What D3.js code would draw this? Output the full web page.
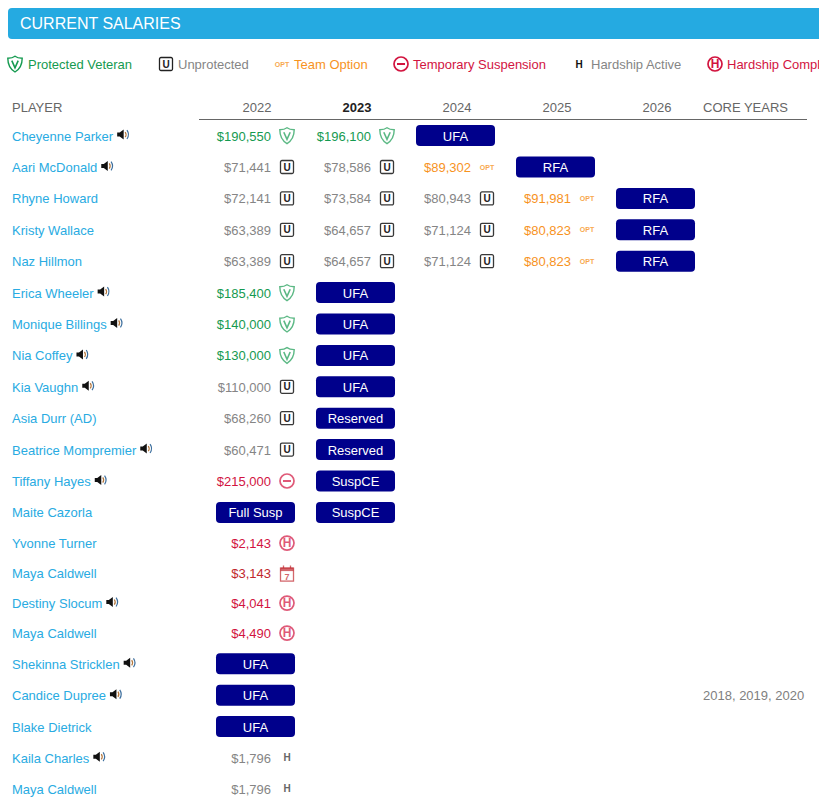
<!DOCTYPE html>
<html>
<head>
<meta charset="utf-8">
<script src="https://cdn.jsdelivr.net/npm/d3@7"></script>
<style>
html, body { margin: 0; padding: 0; background: #fff; overflow: hidden; }
svg { display: block; font-family: "Liberation Sans", Arial, sans-serif; font-size: 13px; }
</style>
</head>
<body>
<div id="chart"></div>
<script>
const title = "CURRENT SALARIES";

const legendKinds = ["V", "U", "OPT", "S", "H", "HC"];
const legendLabels = ["Protected Veteran", "Unprotected", "Team Option", "Temporary Suspension", "Hardship Active", "Hardship Complete"];

const years = ["2022", "2023", "2024", "2025", "2026"];

const players = ["Cheyenne Parker", "Aari McDonald", "Rhyne Howard", "Kristy Wallace", "Naz Hillmon", "Erica Wheeler", "Monique Billings", "Nia Coffey", "Kia Vaughn", "Asia Durr (AD)", "Beatrice Mompremier", "Tiffany Hayes", "Maite Cazorla", "Yvonne Turner", "Maya Caldwell", "Destiny Slocum", "Maya Caldwell", "Shekinna Stricklen", "Candice Dupree", "Blake Dietrick", "Kaila Charles", "Maya Caldwell"];
const hasAudio = [1, 1, 0, 0, 0, 1, 1, 1, 1, 0, 1, 1, 0, 0, 0, 1, 0, 1, 1, 0, 1, 0];

// a number is a salary, a string is a pill
const values2022 = [190550, 71441, 72141, 63389, 63389, 185400, 140000, 130000, 110000, 68260, 60471, 215000, "Full Susp", 2143, 3143, 4041, 4490, "UFA", "UFA", "UFA", 1796, 1796];
const status2022 = ["V", "U", "U", "U", "U", "V", "V", "V", "U", "U", "U", "S", "", "HC", "CAL", "HC", "HC", "", "", "", "H", "H"];
const values2023 = [196100, 78586, 73584, 64657, 64657, "UFA", "UFA", "UFA", "UFA", "Reserved", "Reserved", "SuspCE", "SuspCE"];
const status2023 = ["V", "U", "U", "U", "U"];
const values2024 = ["UFA", 89302, 80943, 71124, 71124];
const status2024 = ["", "OPT", "U", "U", "U"];
const values2025 = [null, "RFA", 91981, 80823, 80823];
const status2025 = ["", "", "OPT", "OPT", "OPT"];
const values2026 = [null, null, "RFA", "RFA", "RFA"];
const status2026 = [];
const coreYears = { 18: "2018, 2019, 2020" };

const columns = [
    [values2022, status2022],
    [values2023, status2023],
    [values2024, status2024],
    [values2025, status2025],
    [values2026, status2026]
];

const width = 819;
const height = 807;

const navy = "#00008b";
const blue = "#29abe2";
const kindColor = d3.scaleOrdinal()
    .domain(["V", "U", "OPT", "S", "H", "HC", "CAL"])
    .range(["#159a50", "#858585", "#f7931e", "#d2143f", "#858585", "#d2143f", "#c1272d"]);

const svg = d3.select("#chart").append("svg")
    .attr("width", width)
    .attr("height", height)
    .attr("viewBox", [0, 0, width, height]);

// banner, square end runs off the page
svg.append("rect")
    .attr("x", 8).attr("y", 8)
    .attr("width", width).attr("height", 31)
    .attr("rx", 4)
    .attr("fill", "#25aae1");
svg.append("text")
    .attr("x", 20).attr("y", 29)
    .attr("fill", "#fff")
    .style("font-size", "16px")
    .text(title);

const legendX = d3.scaleOrdinal().domain(legendKinds).range([15, 166, 282, 401, 579, 715]);
const legendTextX = d3.scaleOrdinal().domain(legendKinds).range([28, 178, 294, 413, 591, 727]);

const legend = svg.append("g").selectAll("g")
    .data(legendKinds)
    .join("g");
legend.each(function(k) {
    drawIcon(d3.select(this).append("g").attr("transform", `translate(${legendX(k)},64)`), k, true);
});
legend.append("text")
    .attr("x", k => legendTextX(k))
    .attr("y", 69)
    .attr("fill", k => kindColor(k))
    .text((k, i) => legendLabels[i]);

// columns are 100px apart, 2022 centred at 257
const x = d3.scaleBand().domain(years).range([207, 707]);
const rowHeight = i => {
    const k = status2022[i];
    if (k === "HC" || k === "CAL") return 30;
    if (k === "H") return 31;
    return 31.4;
};
const centers = [135.6];
for (let i = 1; i < players.length; i++) {
    centers.push(centers[i - 1] + (rowHeight(i - 1) + rowHeight(i)) / 2);
}
const y = d3.scaleOrdinal().domain(d3.range(players.length)).range(centers);

// header
svg.append("text").attr("x", 12).attr("y", 112).attr("fill", "#666").text("PLAYER");
svg.append("g").selectAll("text")
    .data(years)
    .join("text")
    .attr("x", d => x(d) + x.bandwidth() / 2)
    .attr("y", 112)
    .attr("text-anchor", "middle")
    .attr("fill", d => d === "2023" ? "#222" : "#666")
    .attr("font-weight", d => d === "2023" ? "bold" : null)
    .text(d => d);
svg.append("text").attr("x", 703).attr("y", 112).attr("fill", "#666").text("CORE YEARS");
svg.append("line")
    .attr("x1", 199).attr("x2", 807)
    .attr("y1", 119.5).attr("y2", 119.5)
    .attr("stroke", "#666");

// player names + audio icon
const names = svg.append("g").selectAll("g")
    .data(players)
    .join("g")
    .attr("transform", (d, i) => `translate(12,${y(i)})`);
names.append("text")
    .attr("y", 5)
    .attr("fill", blue)
    .text(d => d);
names.filter((d, i) => hasAudio[i]).each(function() {
    const g = d3.select(this);
    const w = g.select("text").node().getComputedTextLength();
    drawSpeaker(g.append("g").attr("transform", `translate(${w + 9},-1)`));
});

// salary cells and pills
columns.forEach(([values, status], c) => {
    const cx = x(years[c]) + x.bandwidth() / 2;
    values.forEach((v, i) => {
        if (v === null) return;
        if (typeof v === "string") {
            svg.append("rect")
                .attr("x", cx - 41).attr("y", y(i) - 10.5)
                .attr("width", 79).attr("height", 21)
                .attr("rx", 4)
                .attr("fill", navy);
            svg.append("text")
                .attr("x", cx - 1.5).attr("y", y(i) + 5)
                .attr("text-anchor", "middle")
                .attr("fill", "#fff")
                .text(v);
        } else {
            const k = status[i];
            svg.append("text")
                .attr("x", cx + 14).attr("y", y(i) + 5)
                .attr("text-anchor", "end")
                .attr("textLength", null)
                .attr("fill", kindColor(k))
                .text("$" + d3.format(",")(v));
            drawIcon(svg.append("g").attr("transform", `translate(${cx + 30},${y(i)})`), k, false);
        }
    });
});

Object.entries(coreYears).forEach(([i, t]) => {
    svg.append("text")
        .attr("x", 703).attr("y", y(+i) + 5)
        .attr("fill", "#808080")
        .text(t);
});

function drawIcon(g, k, inLegend) {
    const o = inLegend ? 1 : 0.7;
    const c = kindColor(k);
    if (k === "V") {
        g.append("path")
            .attr("d", "M0,-7.8 C2,-6.2 5,-5.8 7.2,-5.8 C7.2,0 5,5 0,8 C-5,5 -7.2,0 -7.2,-5.8 C-5,-5.8 -2,-6.2 0,-7.8 Z")
            .attr("fill", "none").attr("stroke", c).attr("stroke-width", 1.4).attr("opacity", o);
        g.append("path")
            .attr("d", "M-3.2,-3.4 L0,3.8 L3.2,-3.4")
            .attr("fill", "none").attr("stroke", c).attr("stroke-width", 1.6).attr("opacity", o);
    } else if (k === "U") {
        g.append("rect")
            .attr("x", -6.5).attr("y", -6.5).attr("width", 13).attr("height", 13).attr("rx", 1.5)
            .attr("fill", "none").attr("stroke", "#222").attr("stroke-width", 1.3).attr("opacity", inLegend ? 1 : 0.9);
        g.append("text")
            .attr("y", 3.6).attr("text-anchor", "middle")
            .attr("fill", "#222").attr("font-weight", "bold").style("font-size", "10px")
            .text("U");
    } else if (k === "OPT") {
        g.append("text")
            .attr("y", 2.5).attr("text-anchor", "middle")
            .attr("fill", c).attr("font-weight", "bold").attr("opacity", 0.8).style("font-size", "7px")
            .text("OPT");
    } else if (k === "S" || k === "HC") {
        g.append("circle")
            .attr("r", 7).attr("fill", "none").attr("stroke", c).attr("stroke-width", 1.7).attr("opacity", o);
        if (k === "S") {
            g.append("line")
                .attr("x1", -4).attr("x2", 4)
                .attr("stroke", c).attr("stroke-width", 2).attr("opacity", o);
        } else {
            g.append("text")
                .attr("y", 4.2).attr("text-anchor", "middle")
                .attr("fill", c).attr("font-weight", "bold").attr("opacity", o).style("font-size", "12px")
                .text("H");
        }
    } else if (k === "H") {
        g.append("text")
            .attr("y", 3.6).attr("text-anchor", "middle")
            .attr("fill", inLegend ? "#111" : "#666").attr("font-weight", "bold").style("font-size", "10px")
            .text("H");
    } else if (k === "CAL") {
        g.append("rect")
            .attr("x", -6.5).attr("y", -5).attr("width", 13).attr("height", 13)
            .attr("fill", "none").attr("stroke", c).attr("stroke-width", 1.3).attr("opacity", o);
        g.append("rect")
            .attr("x", -6.5).attr("y", -5.5).attr("width", 13).attr("height", 3.5)
            .attr("fill", c).attr("opacity", o);
        g.append("path")
            .attr("d", "M-3.5,-7.5 V-5 M3.5,-7.5 V-5")
            .attr("stroke", c).attr("stroke-width", 1.3).attr("opacity", o);
        g.append("text")
            .attr("y", 6.5).attr("text-anchor", "middle")
            .attr("fill", c).attr("font-weight", "bold").attr("opacity", o).style("font-size", "9px")
            .text("7");
    }
}

function drawSpeaker(g) {
    g.append("path")
        .attr("d", "M-5,-2 H-2.5 L1.5,-5 V5 L-2.5,2 H-5 Z")
        .attr("fill", "#111");
    g.append("path")
        .attr("d", "M3,-2.6 Q4.8,0 3,2.6")
        .attr("fill", "none").attr("stroke", "#b5763a").attr("stroke-width", 1.2);
    g.append("path")
        .attr("d", "M4.8,-4.4 Q7.8,0 4.8,4.4")
        .attr("fill", "none").attr("stroke", "#3d6f9e").attr("stroke-width", 1.2);
}
</script>
</body>
</html>
